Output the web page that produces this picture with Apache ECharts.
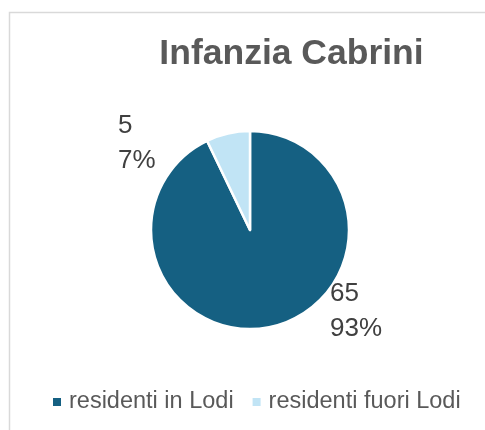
<!DOCTYPE html>
<html><head><meta charset="utf-8">
<script src="https://cdn.jsdelivr.net/npm/echarts@6/dist/echarts.min.js"></script>
<style>html,body{margin:0;padding:0;background:#fff}#c{width:485px;height:430px}</style>
</head><body><div id="c"></div>
<script>
const categories = ['residenti in Lodi', 'residenti fuori Lodi'];
const values = [65, 5];
const colors = ['#156082', '#c1e4f5'];
const titleText = 'Infanzia Cabrini';

const chart = echarts.init(document.getElementById('c'), null, {renderer: 'canvas'});
const labelPos = [
  {x: 330, y: 311},
  {x: 118, y: 143}
];
chart.setOption({
  animation: false,
  backgroundColor: '#ffffff',
  graphic: [{
    type: 'rect', shape: {x: 9.5, y: 12.5, width: 500, height: 450},
    style: {fill: 'none', stroke: '#d9d9d9', lineWidth: 1.5}, silent: true
  }],
  title: {
    text: titleText, left: 286.5, top: 31, textAlign: 'center',
    textStyle: {fontFamily: 'Liberation Sans', fontWeight: 'bold', fontSize: 35.5, color: '#595959'}
  },
  legend: {
    data: categories, left: 51, top: 390, padding: 0,
    icon: 'rect', itemWidth: 10, itemHeight: 10, itemGap: 17,
    textStyle: {fontFamily: 'Liberation Sans', fontSize: 23.5, color: '#595959', lineHeight: 22, padding: [0, 0, 0, 2]}
  },
  series: [{
    type: 'pie',
    center: [250, 230],
    radius: [0, 99],
    startAngle: 90,
    clockwise: true,
    data: categories.map((c, i) => ({name: c, value: values[i], itemStyle: {color: colors[i]}})),
    itemStyle: {borderColor: '#ffffff', borderWidth: 2.5},
    label: {
      show: true, position: 'outside',
      formatter: function (p) { return p.value + '\n' + Math.round(p.percent) + '%'; },
      fontFamily: 'Liberation Sans', fontSize: 26, lineHeight: 35, color: '#404040'
    },
    labelLine: {show: false},
    labelLayout: function (p) {
      const lp = labelPos[p.dataIndex];
      return {x: lp.x, y: lp.y, align: 'left', verticalAlign: 'middle'};
    },
    emphasis: {disabled: true}
  }]
});
</script></body></html>
